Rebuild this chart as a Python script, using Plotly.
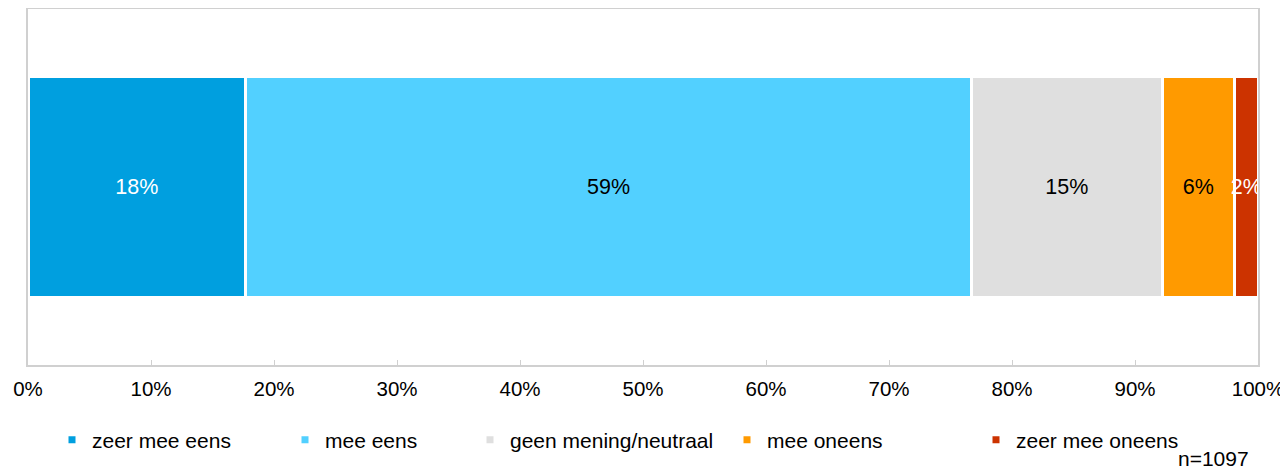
import plotly.graph_objects as go

categories = ["zeer mee eens", "mee eens", "geen mening/neutraal", "mee oneens", "zeer mee oneens"]
values = [17.7, 59.0, 15.5, 5.9, 1.9]
labels = ["18%", "59%", "15%", "6%", "2%"]
colors = ["#009FDF", "#52D0FF", "#DFDFDF", "#FF9A00", "#CC3300"]
label_colors = ["white", "black", "black", "black", "white"]
tick_vals = [0, 10, 20, 30, 40, 50, 60, 70, 80, 90, 100]
tick_text = ["0%", "10%", "20%", "30%", "40%", "50%", "60%", "70%", "80%", "90%", "100%"]
legend_text_px = [92, 325, 510, 767, 1016]

FONT = "Liberation Sans, Arial, sans-serif"
OFF = 8  # page body margin
W, H = 1288 - OFF, 470 - OFF
L, R, T, B = 28 - OFF, 30, 1, 105
pw, ph = W - L - R, H - T - B


def px_x(sx):
    return (sx - OFF - L) / pw


def px_y(sy):
    return 1 - (sy - OFF - T) / ph


fig = go.Figure()
for i, (c, v, lab, col, lc) in enumerate(zip(categories, values, labels, colors, label_colors)):
    fig.add_trace(go.Bar(
        y=["q"], x=[v], orientation="h", name=c,
        marker=dict(color=col, line=dict(color="white", width=3)),
        text=[lab], textposition="inside", insidetextanchor="middle", textangle=0,
        textfont=dict(color=lc, size=21.5, family=FONT),
        showlegend=False, hoverinfo="skip",
    ))
    lg = "legend" if i == 0 else f"legend{i+1}"
    fig.add_trace(go.Scatter(
        x=[None], y=[None], mode="markers", name=c,
        marker=dict(symbol="square", size=7, color=col),
        legend=lg, showlegend=True,
    ))

legend_layout = {}
for i, tx in enumerate(legend_text_px):
    key = "legend" if i == 0 else f"legend{i+1}"
    legend_layout[key] = dict(
        x=px_x(tx - 40), xanchor="left",
        y=px_y(440), yanchor="middle",
        orientation="h", font=dict(size=21, family=FONT, color="black"),
        bgcolor="rgba(0,0,0,0)", itemwidth=30,
    )

fig.update_layout(
    width=W, height=H,
    margin=dict(l=L, r=R, t=T, b=B, autoexpand=False),
    barmode="stack", bargap=0.38,
    plot_bgcolor="white", paper_bgcolor="white",
    font=dict(family=FONT, size=20, color="black"),
    uniformtext=dict(minsize=21.5, mode="show"),
    **legend_layout,
    xaxis=dict(
        range=[0, 100], tickvals=tick_vals, ticktext=tick_text,
        showline=True, linecolor="#D0D0D0", linewidth=2, mirror=True,
        ticks="inside", ticklen=5, tickcolor="#D0D0D0", tickwidth=1,
        showgrid=False, zeroline=False, ticklabelstandoff=4, automargin=False,
        tickfont=dict(size=20.5, family=FONT, color="black"),
    ),
    yaxis=dict(
        showticklabels=False, showline=True, linecolor="#D0D0D0", linewidth=2,
        mirror=True, showgrid=False, zeroline=False, ticks="", automargin=False,
    ),
    annotations=[dict(
        text="n=1097", xref="paper", yref="paper",
        x=px_x(1251), xanchor="right",
        y=px_y(458), yanchor="middle",
        showarrow=False, font=dict(size=21, family=FONT, color="black"),
    )],
)

fig.write_html("out.html")
